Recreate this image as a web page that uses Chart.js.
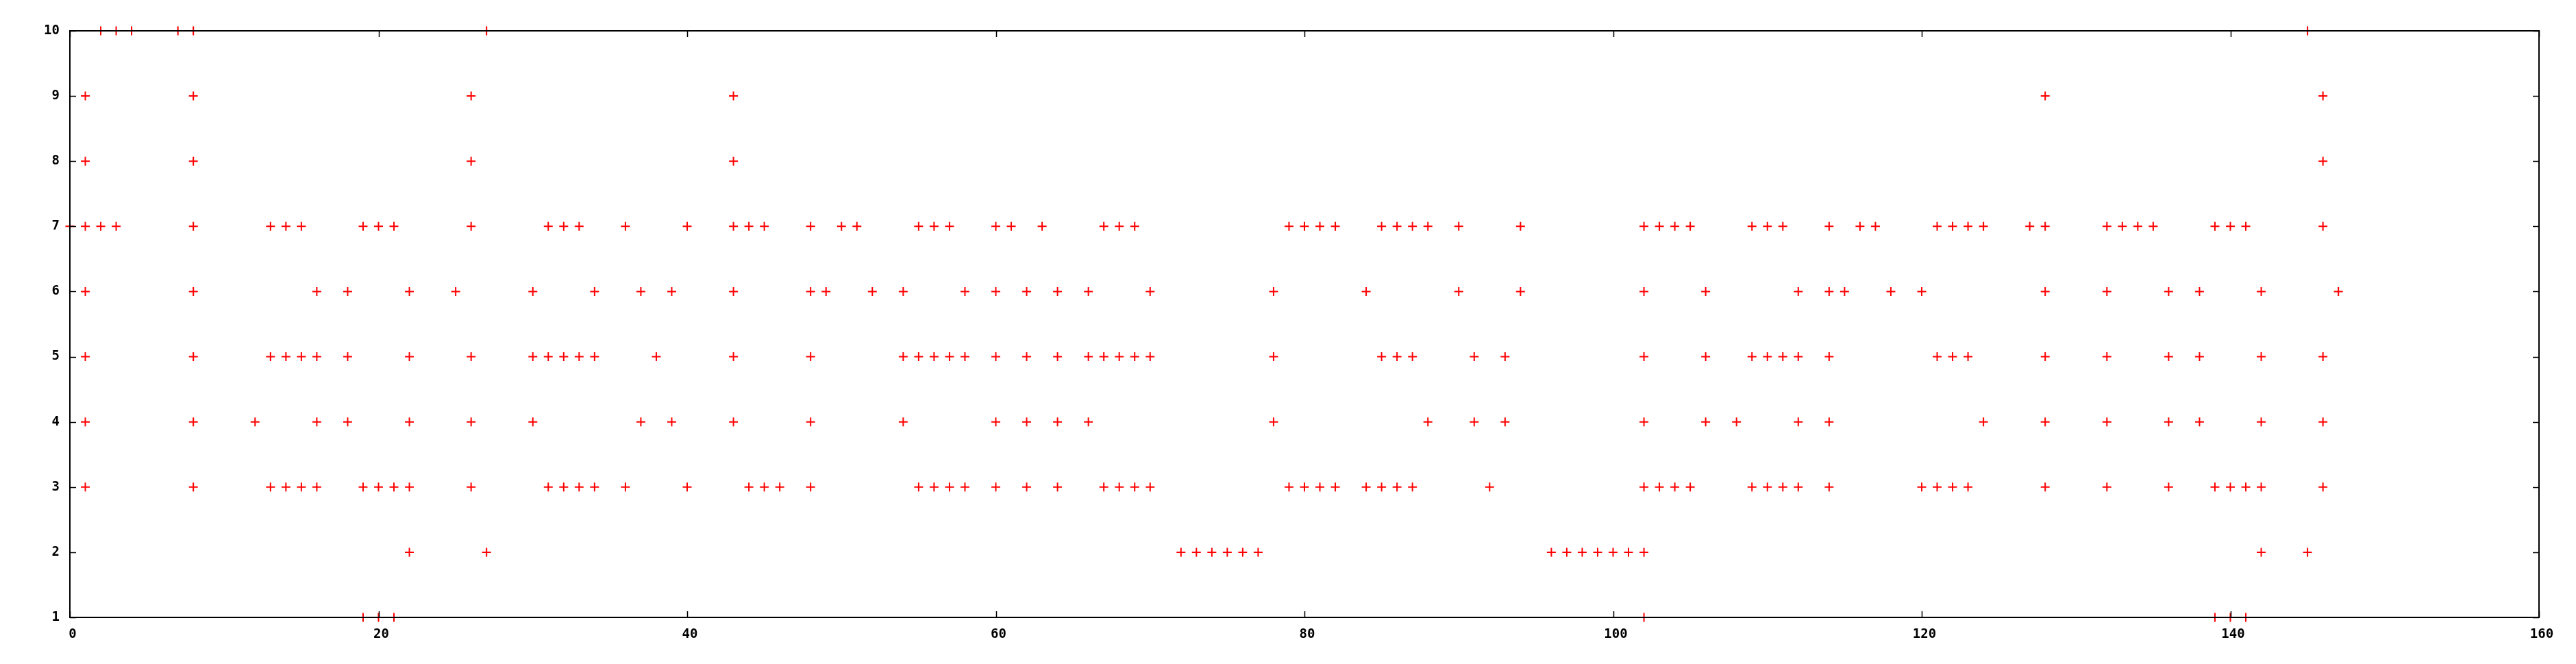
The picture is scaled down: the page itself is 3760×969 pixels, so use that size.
<!DOCTYPE html>
<html>
<head>
<meta charset="utf-8">
<script src="https://cdn.jsdelivr.net/npm/chart.js@4"></script>
<style>
  body { margin: 0; background: #fff; }
  #wrap { width: 3760px; height: 969px; }
</style>
</head>
<body>
<div id="wrap"><canvas id="plot"></canvas></div>
<script>
// x positions of the points, one list per y level
const xAtY10 = [2, 3, 4, 7, 8, 27, 145];
const xAtY9 = [1, 8, 26, 43, 128, 146];
const xAtY8 = [1, 8, 26, 43, 146];
const xAtY7 = [0, 1, 2, 3, 8, 13, 14, 15, 19, 20, 21, 26, 31, 32, 33, 36, 40, 43, 44, 45, 48, 50, 51,
    55, 56, 57, 60, 61, 63, 67, 68, 69, 79, 80, 81, 82, 85, 86, 87, 88, 90, 94, 102, 103, 104, 105,
    109, 110, 111, 114, 116, 117, 121, 122, 123, 124, 127, 128, 132, 133, 134, 135, 139, 140, 141, 146];
const xAtY6 = [1, 8, 16, 18, 22, 25, 30, 34, 37, 39, 43, 48, 49, 52, 54, 58, 60, 62, 64, 66, 70, 78,
    84, 90, 94, 102, 106, 112, 114, 115, 118, 120, 128, 132, 136, 138, 142, 147];
const xAtY5 = [1, 8, 13, 14, 15, 16, 18, 22, 26, 30, 31, 32, 33, 34, 38, 43, 48, 54, 55, 56, 57, 58,
    60, 62, 64, 66, 67, 68, 69, 70, 78, 85, 86, 87, 91, 93, 102, 106, 109, 110, 111, 112, 114,
    121, 122, 123, 128, 132, 136, 138, 142, 146];
const xAtY4 = [1, 8, 12, 16, 18, 22, 26, 30, 37, 39, 43, 48, 54, 60, 62, 64, 66, 78, 88, 91, 93,
    102, 106, 108, 112, 114, 124, 128, 132, 136, 138, 142, 146];
const xAtY3 = [1, 8, 13, 14, 15, 16, 19, 20, 21, 22, 26, 31, 32, 33, 34, 36, 40, 44, 45, 46, 48,
    55, 56, 57, 58, 60, 62, 64, 67, 68, 69, 70, 79, 80, 81, 82, 84, 85, 86, 87, 92,
    102, 103, 104, 105, 109, 110, 111, 112, 114, 120, 121, 122, 123, 128, 132, 136,
    139, 140, 141, 142, 146];
const xAtY2 = [22, 27, 72, 73, 74, 75, 76, 77, 96, 97, 98, 99, 100, 101, 102, 142, 145];
const xAtY1 = [19, 20, 21, 102, 139, 140, 141];

// axis ranges / tick steps
const xRange = [0, 160];
const xStep = 20;
const yRange = [1, 10];
const yStep = 1;

const levels = [
    [10, xAtY10], [9, xAtY9], [8, xAtY8], [7, xAtY7], [6, xAtY6],
    [5, xAtY5], [4, xAtY4], [3, xAtY3], [2, xAtY2], [1, xAtY1]
];

let points = [];
levels.forEach(([yv, xs]) => {
    xs.forEach(xv => points.push({ x: xv, y: yv }));
});

const tickFont = { family: '"DejaVu Sans Mono", monospace', size: 19, weight: 'bold' };

// gnuplot style box with inward ticks on all four sides, drawn over the points
const framePlugin = {
    id: 'frame',
    afterDatasetsDraw(chart) {
        const { ctx, chartArea: a, scales } = chart;
        const x = scales.x, y = scales.y;
        const len = 9;
        ctx.save();
        ctx.strokeStyle = '#000';
        ctx.lineWidth = 1.5;
        ctx.beginPath();
        x.ticks.forEach(t => {
            const px = Math.round(x.getPixelForValue(t.value)) + 0.5;
            ctx.moveTo(px, a.bottom); ctx.lineTo(px, a.bottom - len);
            ctx.moveTo(px, a.top); ctx.lineTo(px, a.top + len);
        });
        y.ticks.forEach(t => {
            const py = Math.round(y.getPixelForValue(t.value)) + 0.5;
            ctx.moveTo(a.left, py); ctx.lineTo(a.left + len, py);
            ctx.moveTo(a.right, py); ctx.lineTo(a.right - len, py);
        });
        ctx.stroke();
        ctx.lineWidth = 2;
        ctx.strokeRect(a.left, a.top, a.right - a.left, a.bottom - a.top);
        ctx.restore();
    }
};

const ctx = document.getElementById('plot').getContext('2d');

let chart = new Chart(ctx, {
    type: 'scatter',
    data: {
        datasets: [{
            data: points,
            pointStyle: 'cross',
            pointRadius: 6.5,
            pointHoverRadius: 6.5,
            borderColor: '#ff0000',
            backgroundColor: '#ff0000',
            borderWidth: 2,
            clip: false
        }]
    },
    plugins: [framePlugin],
    options: {
        responsive: true,
        maintainAspectRatio: false,
        animation: false,
        events: [],
        layout: { padding: { left: 0, top: 45, right: 54, bottom: 0 } },
        plugins: {
            legend: { display: false },
            tooltip: { enabled: false }
        },
        scales: {
            x: {
                type: 'linear',
                min: xRange[0],
                max: xRange[1],
                grid: { display: false, drawTicks: false },
                border: { display: false },
                ticks: { stepSize: xStep, color: '#000', font: tickFont, padding: 14, labelOffset: 4, maxRotation: 0 },
                afterFit: s => { s.height = 68; }
            },
            y: {
                type: 'linear',
                min: yRange[0],
                max: yRange[1],
                grid: { display: false, drawTicks: false },
                border: { display: false },
                ticks: { stepSize: yStep, color: '#000', font: tickFont, padding: 15 },
                afterFit: s => { s.width = 102; }
            }
        }
    }
});
</script>
</body>
</html>
